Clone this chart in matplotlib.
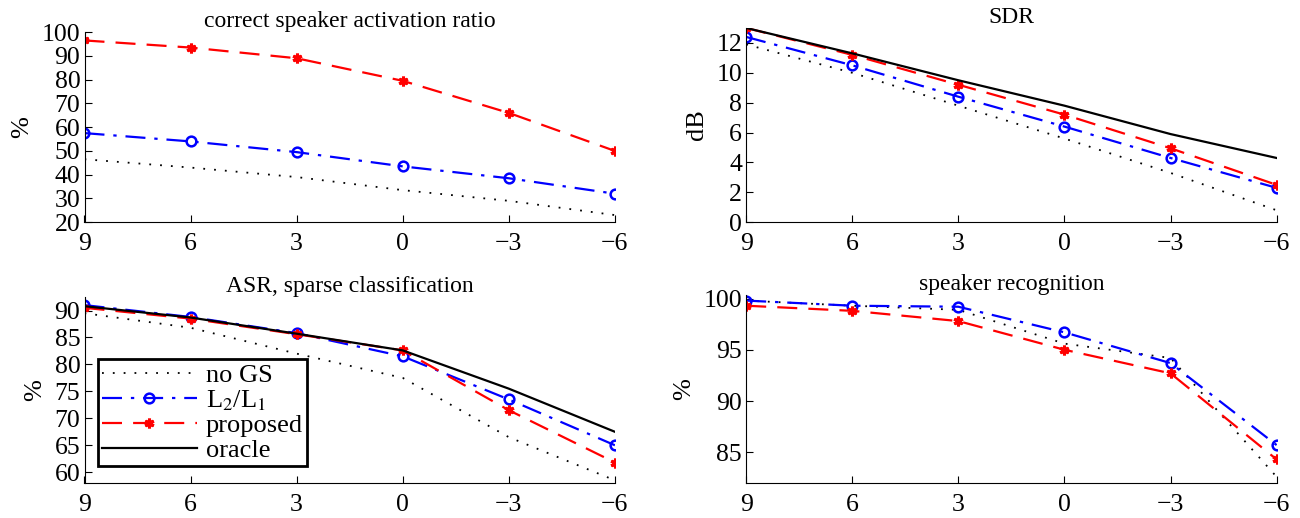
import numpy as np
import matplotlib
matplotlib.use('Agg')
import matplotlib.pyplot as plt

plt.rcParams['font.family'] = ['Liberation Serif', 'DejaVu Serif']
plt.rcParams['mathtext.fontset'] = 'stix'

snr = [9, 6, 3, 0, -3, -6]

# correct speaker activation ratio (%)
act_nogs = [46.5, 43, 39, 33.5, 29, 23]
act_l2l1 = [57.5, 54, 49.5, 43.5, 38.5, 32]
act_prop = [96.5, 93.5, 89, 79.5, 66, 50]

# SDR (dB)
sdr_nogs = [11.9, 10.0, 7.8, 5.6, 3.3, 0.8]
sdr_l2l1 = [12.4, 10.5, 8.4, 6.4, 4.3, 2.3]
sdr_prop = [13.0, 11.2, 9.2, 7.2, 4.95, 2.5]
sdr_orac = [13.0, 11.3, 9.5, 7.8, 5.9, 4.3]

# ASR, sparse classification (%)
asr_nogs = [89.5, 86.8, 82.0, 77.5, 66.5, 58.5]
asr_l2l1 = [91.0, 88.8, 85.8, 81.5, 73.5, 65.0]
asr_prop = [90.5, 88.5, 85.6, 82.6, 71.5, 61.8]
asr_orac = [90.8, 88.7, 85.7, 82.6, 75.5, 67.5]

# speaker recognition (%)
spk_nogs = [99.8, 99.3, 98.9, 95.6, 94.2, 82.6]
spk_l2l1 = [99.8, 99.3, 99.2, 96.7, 93.7, 85.7]
spk_prop = [99.3, 98.8, 97.8, 95.0, 92.7, 84.3]

fig = plt.figure(figsize=(13, 5.18), dpi=100)

def make_ax(rect, title, ylabel, ylim, yticks):
    ax = fig.add_axes(rect)
    ax.set_xlim(9, -6)
    ax.set_xticks(snr)
    ax.set_ylim(*ylim)
    ax.set_yticks(yticks)
    ax.set_title(title, fontsize=17, pad=3)
    ax.set_ylabel(ylabel, fontsize=19, labelpad=6)
    ax.spines['top'].set_visible(False)
    ax.spines['right'].set_visible(False)
    ax.tick_params(direction='in', labelsize=18.5, length=5)
    ax.tick_params(axis='x', pad=8)
    ax.tick_params(axis='y', pad=3)
    return ax

def draw(ax, nogs=None, l2l1=None, prop=None, orac=None):
    h = []
    if nogs is not None:
        h += ax.plot(snr, nogs, color='black', lw=1.3, label='no GS',
                     dashes=(1, 5))
    if l2l1 is not None:
        h += ax.plot(snr, l2l1, color='blue', lw=1.6, marker='o',
                     mfc='none', mec='blue', ms=7, mew=1.8,
                     label='L$_2$/L$_1$', dashes=(9, 4, 1.5, 4))
    if prop is not None:
        h += ax.plot(snr, prop, color='red', lw=1.6, marker=(6, 2, 0),
                     ms=7, mec='red', mew=2.2, label='proposed',
                     dashes=(9, 5))
    if orac is not None:
        h += ax.plot(snr, orac, '-', color='black', lw=1.6, label='oracle')
    return h

ax1 = make_ax([0.065, 0.571, 0.408, 0.367], 'correct speaker activation ratio',
              '%', (20, 100), range(20, 101, 10))
draw(ax1, act_nogs, act_l2l1, act_prop)

ax2 = make_ax([0.574, 0.571, 0.408, 0.375], 'SDR', 'dB', (0, 13), range(0, 13, 2))
draw(ax2, sdr_nogs, sdr_l2l1, sdr_prop, sdr_orac)

ax3 = make_ax([0.065, 0.0676, 0.408, 0.36], 'ASR, sparse classification',
              '%', (58, 92.6), range(60, 91, 5))
h = draw(ax3, asr_nogs, asr_l2l1, asr_prop, asr_orac)
leg = ax3.legend(handles=h, loc='lower left', bbox_to_anchor=(0.025, 0.09),
                 fontsize=19, handlelength=3.6, fancybox=False, framealpha=1,
                 edgecolor='black', borderaxespad=0, handletextpad=0.35,
                 labelspacing=0.05, borderpad=0.15)
leg.get_frame().set_linewidth(2)

ax4 = make_ax([0.574, 0.0676, 0.408, 0.362], 'speaker recognition',
              '%', (82, 100.3), range(85, 101, 5))
draw(ax4, spk_nogs, spk_l2l1, spk_prop)

fig.savefig('out.png', dpi=100)
